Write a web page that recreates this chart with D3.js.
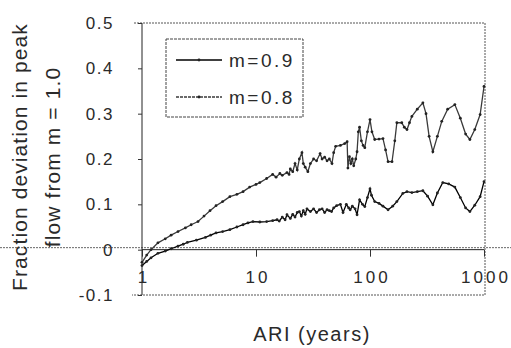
<!DOCTYPE html>
<html>
<head>
<meta charset="utf-8">
<script src="https://cdn.jsdelivr.net/npm/d3@7"></script>
<style>
body { margin: 0; background: #fff; }
text { font-family: "Liberation Sans", Arial, sans-serif; fill: #2a2a2a; }
</style>
</head>
<body>
<script>
// ARI (years) and fraction deviation
var seriesNames = ["m=0.9", "m=0.8"];
var yTicks = [-0.1, 0, 0.1, 0.2, 0.3, 0.4, 0.5];
var yTickLabels = ["-0.1", "0", "0.1", "0.2", "0.3", "0.4", "0.5"];
var xTicks = [1, 10, 100, 1000];

var m09 = [[1,-0.035],[1.1,-0.026],[1.2,-0.018],[1.38,-0.008],[1.6,-0.003],[1.8,0.002],[2.07,0.008],[2.3,0.012],[2.5,0.016],[3,0.021],[3.6,0.027],[4,0.032],[4.46,0.037],[5.1,0.04],[5.9,0.044],[6.8,0.05],[7.7,0.055],[8.5,0.059],[9.4,0.062],[10.8,0.061],[12.4,0.062],[14,0.064],[15.3,0.066],[16,0.063],[17,0.072],[18,0.066],[18.7,0.077],[20,0.069],[21,0.078],[22,0.072],[23,0.082],[24,0.084],[25,0.074],[26,0.086],[27,0.078],[28,0.09],[30,0.084],[32,0.09],[34,0.082],[36,0.088],[38,0.09],[40,0.082],[42,0.088],[44,0.086],[46,0.084],[48,0.092],[51,0.097],[55,0.1],[58,0.082],[62,0.1],[65,0.092],[67,0.088],[70,0.096],[74,0.09],[77,0.077],[81,0.11],[86,0.1],[90,0.095],[95,0.115],[100,0.134],[103,0.12],[110,0.106],[120,0.102],[130,0.096],[144,0.088],[158,0.096],[172,0.106],[194,0.124],[211,0.128],[233,0.126],[260,0.128],[291,0.13],[320,0.118],[356,0.099],[390,0.125],[435,0.148],[490,0.145],[555,0.138],[620,0.115],[690,0.092],[752,0.084],[830,0.098],[925,0.117],[1000,0.15]];

var m08 = [[1,-0.028],[1.1,-0.012],[1.2,0.0],[1.38,0.015],[1.6,0.024],[1.8,0.032],[2.07,0.04],[2.4,0.048],[2.7,0.055],[3.1,0.062],[3.5,0.074],[3.95,0.086],[4.46,0.097],[5.1,0.106],[5.9,0.117],[6.8,0.122],[7.7,0.128],[8.8,0.138],[10,0.144],[10.8,0.148],[12.4,0.157],[14,0.166],[15,0.16],[16.2,0.168],[17,0.164],[18.7,0.17],[19.5,0.166],[20,0.178],[21,0.172],[22,0.19],[23,0.176],[24,0.2],[25.3,0.214],[26,0.19],[27,0.182],[28.5,0.172],[30,0.19],[32,0.2],[34,0.196],[36.5,0.212],[38,0.2],[40,0.204],[42,0.196],[44,0.2],[46.4,0.19],[48,0.214],[50,0.228],[55,0.23],[60,0.234],[63,0.238],[64,0.18],[66,0.205],[68,0.19],[70,0.2],[72,0.185],[75,0.2],[77,0.216],[79,0.26],[81,0.27],[84,0.24],[87,0.23],[90,0.225],[95,0.26],[100,0.287],[104,0.26],[110,0.243],[120,0.244],[130,0.245],[137,0.22],[144,0.194],[156,0.194],[165,0.24],[172,0.28],[190,0.28],[200,0.27],[211,0.265],[222,0.28],[233,0.294],[260,0.31],[291,0.324],[310,0.3],[330,0.25],[356,0.216],[390,0.25],[426,0.283],[480,0.31],[555,0.32],[620,0.29],[690,0.255],[752,0.243],[830,0.265],[925,0.298],[1000,0.36]];

var W = 511, H = 348;
var padL = 142, padR = 484, padT = 23, padB = 295;

var svg = d3.select("body").append("svg")
  .attr("width", W)
  .attr("height", H);

var x = d3.scaleLog().domain([1, 1000]).range([padL, padR]);
var y = d3.scaleLinear().domain([-0.1, 0.5]).range([padB, padT]);

// plot area border (dotted in the scan)
svg.append("path")
  .attr("d", "M" + (padL - 8) + "," + padT + "H" + (padR + 1) + "V" + padB + "H" + (padL - 10))
  .attr("fill", "none")
  .attr("stroke", "#555")
  .attr("stroke-width", 1)
  .attr("stroke-dasharray", "2,1");

// dotted line through zero across whole page
svg.append("line")
  .attr("x1", 0).attr("x2", W)
  .attr("y1", y(0) - 2).attr("y2", y(0) - 2)
  .attr("stroke", "#666")
  .attr("stroke-dasharray", "2,1");

// y axis
var yAxis = svg.append("g")
  .attr("transform", "translate(" + padL + ",0)")
  .call(d3.axisLeft(y).tickValues(yTicks).tickSize(4).tickPadding(24)
    .tickFormat((d, i) => yTickLabels[i]));
yAxis.select(".domain").attr("stroke", "#222").attr("d", "M0," + padT + "V" + padB);
yAxis.selectAll(".tick line").attr("stroke", "#333");
yAxis.selectAll(".tick text").attr("font-size", 17).attr("fill", "#2a2a2a")
  .attr("letter-spacing", 1.5)
  .attr("font-family", "Liberation Sans, Arial, sans-serif");

// x axis sits on y = 0, labels at the bottom
var xAxis = svg.append("g")
  .attr("transform", "translate(0," + y(0) + ")")
  .call(d3.axisBottom(x).tickValues(xTicks).tickSize(7).tickFormat(d3.format("d")));
xAxis.select(".domain").attr("stroke", "#222").attr("d", "M" + padL + ",0H" + padR);
xAxis.selectAll(".tick line").attr("stroke", "#333");
xAxis.selectAll(".tick text")
  .attr("y", y(-0.1) - y(0) - 24)
  .attr("dx", 1.5)
  .attr("font-size", 17).attr("fill", "#2a2a2a")
  .attr("letter-spacing", 3)
  .attr("font-family", "Liberation Sans, Arial, sans-serif");

var line = d3.line().x(d => x(d[0])).y(d => y(d[1]));
var colors = ["#000", "#3a3a3a"];

[m09, m08].forEach(function(s, i) {
  svg.append("path")
    .datum(s)
    .attr("d", line)
    .attr("fill", "none")
    .attr("stroke", colors[i])
    .attr("stroke-width", 1.3);
  svg.append("g").selectAll("circle")
    .data(s)
    .join("circle")
    .attr("cx", d => x(d[0]))
    .attr("cy", d => y(d[1]))
    .attr("r", 1.4)
    .attr("fill", "#222");
});

// legend
var lg = svg.append("g");
lg.append("rect")
  .attr("x", 166).attr("y", 39).attr("width", 137).attr("height", 78)
  .attr("fill", "#fff").attr("stroke", "#444").attr("stroke-dasharray", "3,1");
seriesNames.forEach(function(n, i) {
  var ly = 60 + i * 37;
  lg.append("line").attr("x1", 176).attr("x2", 222).attr("y1", ly).attr("y2", ly)
    .attr("stroke", colors[i]).attr("stroke-width", 1.5)
    .attr("stroke-dasharray", i ? "3,1" : null);
  lg.append("circle").attr("cx", 199).attr("cy", ly).attr("r", 1.4)
    .attr("fill", "#222");
  lg.append("text").attr("x", 229).attr("y", ly + 7)
    .attr("font-size", 19).attr("letter-spacing", 2.5).text(n);
});

// axis titles
svg.append("text")
  .attr("x", 312).attr("y", 341)
  .attr("text-anchor", "middle")
  .attr("font-size", 20).attr("letter-spacing", 1.5)
  .text("ARI (years)");

var yt = svg.append("text")
  .attr("transform", "translate(0,157) rotate(-90)")
  .attr("text-anchor", "middle")
  .attr("font-size", 21).attr("letter-spacing", 1.1);
yt.append("tspan").attr("x", 0).attr("y", 27).text("Fraction deviation in peak");
yt.append("tspan").attr("x", 0).attr("y", 60).text("flow from m = 1.0");
</script>
</body>
</html>
